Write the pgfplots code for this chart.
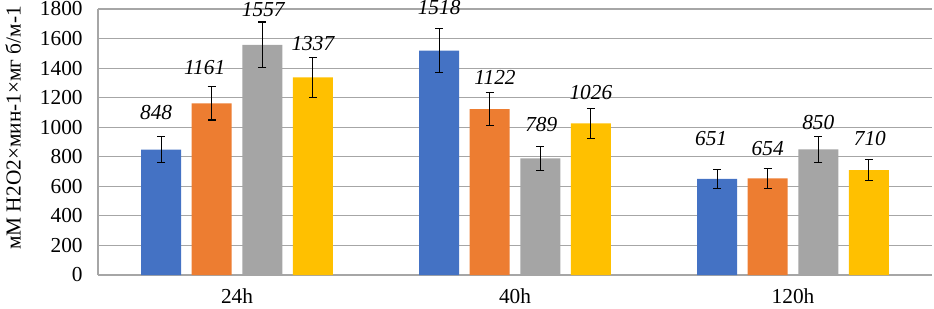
\documentclass[border=0pt]{standalone}
\usepackage{pgfplots}
\pgfplotsset{compat=1.18}
\usepackage{pgfplotstable}
\usepackage{fontspec}
\setmainfont{Liberation Serif}
\definecolor{cA}{HTML}{4472C4}
\definecolor{cB}{HTML}{ED7D31}
\definecolor{cC}{HTML}{A5A5A5}
\definecolor{cD}{HTML}{FFC000}
\definecolor{gridc}{HTML}{A6A6A6}

% x y err dx(pt) dy(pt)
\pgfplotstableread{
x y err dx dy
0 848 88 -3.75 27.75
1 1518 150 0 32.25
2 651 64 -4.5 30
}\seriesA
\pgfplotstableread{
x y err dx dy
0 1161 112 -5.25 27
1 1122 112 4 24
2 654 66 0 22.5
}\seriesB
\pgfplotstableread{
x y err dx dy
0 1557 155 0.75 26.25
1 789 80 0.75 25.5
2 850 87 0 20.25
}\seriesC
\pgfplotstableread{
x y err dx dy
0 1337 133 0 25.5
1 1026 102 0 23.25
2 710 71 0.75 24
}\seriesD

\begin{document}
\begin{tikzpicture}
\path[use as bounding box] (-73.5pt,-24.75pt) rectangle (627pt,206.25pt);
\begin{axis}[
  scale only axis, width=625.5pt, height=199.5pt,
  xmin=-0.5, xmax=2.5, ymin=0, ymax=1800,
  xtick={0,1,2}, xticklabels={24h,40h,120h},
  ytick={0,200,...,1800},
  ymajorgrids, grid style={draw=gridc, line width=0.8pt},
  axis lines=left, axis line style={-, draw=gridc, line width=0.8pt},
  major tick length=0pt,
  tick label style={font=\fontsize{16}{18}\selectfont},
  yticklabel style={xshift=-8pt},
  xticklabel style={yshift=-6.5pt},
  /pgf/number format/assume math mode=true,
  /pgf/number format/1000 sep={},
  every axis y label/.style={at={(axis description cs:-0.1019,0.553)}, rotate=90, anchor=center, font=\fontsize{16}{18}\selectfont},
  ylabel={мМ H2O2×мин-1×мг б/м-1},
  ybar, bar width=0.144,
  clip=false,
  visualization depends on={\thisrow{dx} \as \dx},
  visualization depends on={\thisrow{dy} \as \dy},
  nodes near coords={\pgfmathprintnumber[1000 sep={}]{\pgfplotspointmeta}},
  every node near coord/.append style={font=\fontsize{16}{18}\selectfont\itshape, anchor=center, xshift=\dx pt, yshift=\dy pt, text=black},
  error bars/y dir=both, error bars/y explicit,
  error bars/error bar style={black, line width=0.8pt},
  error bars/error mark options={rotate=90, black, mark size=3pt, line width=0.8pt},
]
\addplot[fill=cA, draw=none, bar shift=0pt] table[x expr=\thisrow{x}-0.273, y=y, y error=err] {\seriesA};
\addplot[fill=cB, draw=none, bar shift=0pt] table[x expr=\thisrow{x}-0.091, y=y, y error=err] {\seriesB};
\addplot[fill=cC, draw=none, bar shift=0pt] table[x expr=\thisrow{x}+0.091, y=y, y error=err] {\seriesC};
\addplot[fill=cD, draw=none, bar shift=0pt] table[x expr=\thisrow{x}+0.273, y=y, y error=err] {\seriesD};
\end{axis}
\end{tikzpicture}
\end{document}
